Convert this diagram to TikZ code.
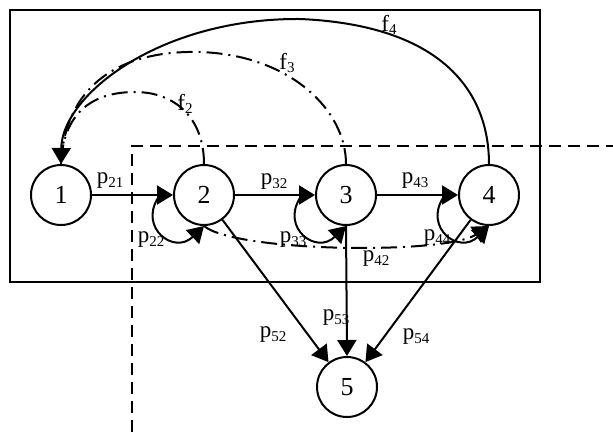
\documentclass[tikz,border=0pt]{standalone}
\usepackage{fontspec}
\setmainfont{Liberation Serif}
\usetikzlibrary{arrows.meta,calc}
\newcommand\lowsub[1]{\raisebox{-0.32ex}{\fontsize{15}{15}\selectfont #1}}
\begin{document}
\begin{tikzpicture}[x=1pt,y=-1pt,
  state/.style={draw, circle, line width=2pt, minimum size=60pt, inner sep=0pt, font=\fontsize{26}{26}\selectfont},
  tip/.style={-{Triangle[length=16pt,width=19pt]}},
  arr/.style={line width=2pt, tip},
  dashdot/.style={line width=2pt, dash pattern=on 16pt off 6pt on 2pt off 6pt},
  frame/.style={line width=2pt},
  cut/.style={line width=2.3pt, dash pattern=on 12pt off 7pt},
  lab/.style={font=\fontsize{23}{23}\selectfont, inner sep=0pt}]
\useasboundingbox (0,0) rectangle (613,432);
\fill[white] (0,0) rectangle (613,432);
% frame and cut lines
\draw[frame] (10,10) rectangle (540,282);
\coordinate (cb) at (132,432);
\coordinate (cc) at (132,146);
\coordinate (cr) at (613,146);
\draw[cut] (cb) -- (cc) -- (cr);
% nodes
\node[state] (n1) at (61,195) {1};
\node[state] (n2) at (204,195) {2};
\node[state] (n3) at (346,195) {3};
\node[state] (n4) at (489,195) {4};
\node[state] (n5) at (347,387) {5};
% labels
\node[lab] (l21) at (110,181) {p\lowsub{21}};
\node[lab] (l32) at (274,182) {p\lowsub{32}};
\node[lab] (l43) at (415,181) {p\lowsub{43}};
\node[lab] (l22) at (151,240) {p\lowsub{22}};
\node[lab] (l33) at (293,240) {p\lowsub{33}};
\node[lab] (l44) at (437,238) {p\lowsub{44}};
\node[lab] (l42) at (376,259) {p\lowsub{42}};
\node[lab] (l52) at (273,335) {p\lowsub{52}};
\node[lab] (l53) at (336,318) {p\lowsub{53}};
\node[lab] (l54) at (416,337) {p\lowsub{54}};
\node[lab] (lf2) at (185,104) {f\lowsub{2}};
\node[lab] (lf3) at (287,63) {f\lowsub{3}};
\node[lab] (lf4) at (389,25) {f\lowsub{4}};
% forward arrows
\draw[arr] (n1) -- (n2);
\draw[arr] (n2) -- (n3);
\draw[arr] (n3) -- (n4);
\draw[arr] (n2) -- (n5);
\draw[arr] (n3.south) -- (n5.north);
\draw[arr] (n4) -- (n5);
% self loops
\coordinate (s2) at (158,198);
\coordinate (s3) at (300,198);
\coordinate (s4) at (443,198);
\draw[arr] (s2) .. controls (139,228) and (174,255) .. (n2.south);
\draw[arr] (s3) .. controls (281,228) and (316,255) .. (n3.south);
\draw[arr] (s4) .. controls (424,228) and (459,255) .. (n4.south);
% p42
\draw[dashdot, tip] (n2.south) .. controls (235,252) and (445,255) .. (n4.south);
% feedback
\draw[dashdot] (n2.north) .. controls (204,118) and (175,92) .. (135,92) .. controls (90,92) and (63,115) .. (n1.north);
\draw[dashdot] (n3.north) .. controls (346,110) and (290,55) .. (200,52) .. controls (120,50) and (65,85) .. (n1.north);
\draw[arr] (n4.north) .. controls (489,90) and (440,25) .. (300,19) .. controls (160,18) and (62,95) .. (n1.north);
\end{tikzpicture}
\end{document}
